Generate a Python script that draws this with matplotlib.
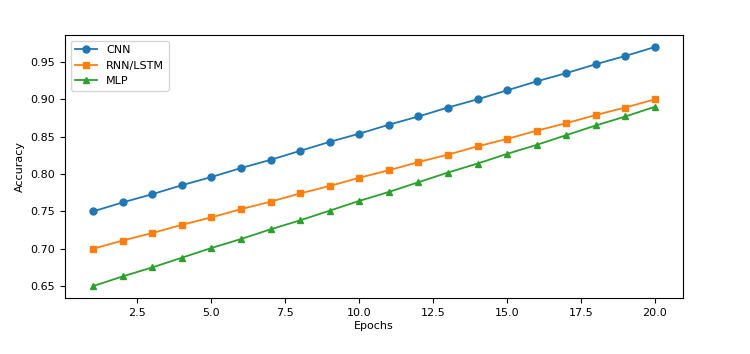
import matplotlib
matplotlib.use("Agg")
import matplotlib.pyplot as plt

epochs = list(range(1, 21))
cnn = [0.750, 0.762, 0.773, 0.785, 0.796, 0.808, 0.819, 0.831, 0.843, 0.854,
       0.866, 0.877, 0.889, 0.900, 0.912, 0.924, 0.935, 0.947, 0.958, 0.970]
rnn = [0.700, 0.711, 0.721, 0.732, 0.742, 0.753, 0.763, 0.774, 0.784, 0.795,
       0.805, 0.816, 0.826, 0.837, 0.847, 0.858, 0.868, 0.879, 0.889, 0.900]
mlp = [0.650, 0.663, 0.675, 0.688, 0.701, 0.713, 0.726, 0.738, 0.751, 0.764,
       0.776, 0.789, 0.802, 0.814, 0.827, 0.839, 0.852, 0.865, 0.877, 0.890]

fig = plt.figure(figsize=(7.5, 3.54), dpi=100)
ax = fig.add_axes([0.0867, 0.158, 0.824, 0.743])
ms = 5
ax.plot(epochs, cnn, marker='o', color='#1f77b4', label='CNN', markersize=ms, linewidth=1.3)
ax.plot(epochs, rnn, marker='s', color='#ff7f0e', label='RNN/LSTM', markersize=ms, linewidth=1.3)
ax.plot(epochs, mlp, marker='^', color='#2ca02c', label='MLP', markersize=ms, linewidth=1.3)
ax.set_xlabel('Epochs', fontsize=8, labelpad=2)
ax.set_ylabel('Accuracy', fontsize=8)
ax.tick_params(labelsize=8)
ax.legend(loc='upper left', fontsize=8)
fig.savefig('out.png', dpi=100)
